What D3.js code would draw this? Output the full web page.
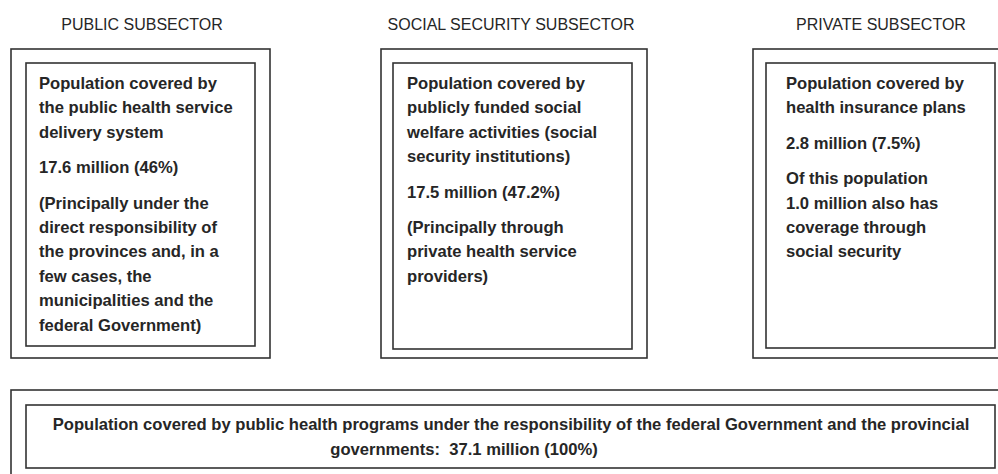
<!DOCTYPE html>
<html>
<head>
<meta charset="utf-8">
<script src="https://cdn.jsdelivr.net/npm/d3@7"></script>
<style>
  body { margin: 0; background: #fff; }
  svg text { font-family: "Liberation Sans Narrow", "Arial Narrow", "Liberation Sans", sans-serif; fill: #262626; white-space: pre; }
</style>
</head>
<body>
<div id="graph"></div>
<script>
// Diagram content
const subsectors = ["PUBLIC SUBSECTOR", "SOCIAL SECURITY SUBSECTOR", "PRIVATE SUBSECTOR"];

const descriptions = [
  ["Population covered by", "the public health service", "delivery system"],
  ["Population covered by", "publicly funded social", "welfare activities (social", "security institutions)"],
  ["Population covered by", "health insurance plans"]
];

const populations = ["17.6 million (46%)", "17.5 million (47.2%)", "2.8 million (7.5%)"];

const notes = [
  ["(Principally under the", "direct responsibility of", "the provinces and, in a", "few cases, the", "municipalities and the", "federal Government)"],
  ["(Principally through", "private health service", "providers)"],
  ["Of this population", "1.0 million also has", "coverage through", "social security"]
];

const totalLines = [
  "Population covered by public health programs under the responsibility of the federal Government and the provincial",
  "governments:  37.1 million (100%)"
];

const width = 998, height = 474;

const svg = d3.select("#graph")
  .append("svg")
  .attr("width", width)
  .attr("height", height);

// layout of the three columns (outer box, inner box, text indent)
const outerX = [11, 381, 753];
const outerW = [259, 266, 262];
const innerX = [26, 393, 766];
const innerW = [229, 239, 229];
const titleX = [142, 511, 881];
const textIndent = [13, 14, 20];
const boxTop = 49, boxBottom = 358, innerTop = 63, innerBottom = [346, 349, 348];

const fontSize = 16.6;
const lineStep = 24.4;
const paraGap = 11;
const firstBaseline = 89;

const cols = svg.selectAll(".col")
  .data(subsectors)
  .join("g")
  .attr("class", "col");

// titles
cols.append("text")
  .attr("x", (d, i) => titleX[i])
  .attr("y", 30)
  .attr("text-anchor", "middle")
  .style("font-size", "16px")
  .text(d => d);

// outer boxes
cols.append("rect")
  .attr("x", (d, i) => outerX[i])
  .attr("y", boxTop)
  .attr("width", (d, i) => outerW[i])
  .attr("height", boxBottom - boxTop)
  .attr("fill", "none")
  .attr("stroke", "#333")
  .attr("stroke-width", 1.6);

// inner boxes
cols.append("rect")
  .attr("x", (d, i) => innerX[i])
  .attr("y", innerTop)
  .attr("width", (d, i) => innerW[i])
  .attr("height", (d, i) => innerBottom[i] - innerTop)
  .attr("fill", "none")
  .attr("stroke", "#333")
  .attr("stroke-width", 1.6);

// text blocks: description, population figure, note
cols.each(function(d, i) {
  const g = d3.select(this);
  const x = innerX[i] + textIndent[i];
  const rows = [];
  let y = firstBaseline;
  descriptions[i].forEach(t => { rows.push({ t, y }); y += lineStep; });
  y += paraGap;
  rows.push({ t: populations[i], y });
  y += lineStep + paraGap;
  notes[i].forEach(t => { rows.push({ t, y }); y += lineStep; });

  g.selectAll(".line")
    .data(rows)
    .join("text")
    .attr("class", "line")
    .attr("x", x)
    .attr("y", r => r.y)
    .style("font-size", fontSize + "px")
    .style("font-weight", "bold")
    .text(r => r.t);
});

// bottom total box
const bottom = svg.append("g");
bottom.append("rect")
  .attr("x", 11).attr("y", 390)
  .attr("width", 1000).attr("height", 100)
  .attr("fill", "none").attr("stroke", "#333").attr("stroke-width", 1.6);
bottom.append("rect")
  .attr("x", 26).attr("y", 405)
  .attr("width", 969).attr("height", 63)
  .attr("fill", "none").attr("stroke", "#333").attr("stroke-width", 1.6);

bottom.selectAll(".total")
  .data(totalLines)
  .join("text")
  .attr("class", "total")
  .attr("x", (d, i) => i === 0 ? 511 : 464)
  .attr("y", (d, i) => 430 + i * 25)
  .attr("text-anchor", "middle")
  .style("font-size", fontSize + "px")
  .style("font-weight", "bold")
  .text(d => d);
</script>
</body>
</html>
